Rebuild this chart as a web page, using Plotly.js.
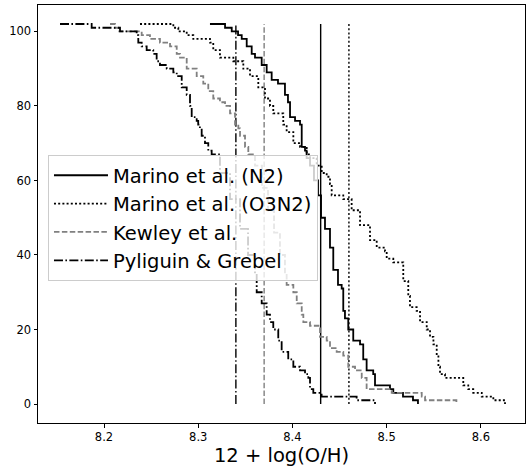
<!DOCTYPE html>
<html>
<head>
<meta charset="utf-8">
<script src="https://cdn.plot.ly/plotly-3.0.1.min.js"></script>
<style>html,body{margin:0;padding:0;background:#fff;}#chart{width:526px;height:471px;}</style>
</head>
<body>
<div id="chart"></div>
<script>
// Series names
const seriesNames = ["Marino et al. (N2)", "Marino et al. (O3N2)", "Kewley et al.", "Pyliguin & Grebel"];

// Marino et al. (N2) — step curve
const n2X = [8.3125, 8.3285, 8.3356, 8.3423, 8.3462, 8.3515, 8.3568, 8.3603, 8.3674, 8.3727, 8.3780, 8.3847, 8.3921, 8.3953, 8.3975, 8.4028, 8.4081, 8.4099, 8.4134, 8.4151, 8.4187, 8.4229, 8.4272, 8.4304, 8.4346, 8.4399, 8.4434, 8.4484, 8.4523, 8.4540, 8.4558, 8.4593, 8.4646, 8.4718, 8.4752, 8.4788, 8.4858, 8.4877, 8.5036, 8.5071, 8.5174, 8.5280, 8.5333];
const n2Y = [102, 101, 100, 99, 98, 96, 94, 93, 91, 89, 87, 86, 83, 81, 77, 76, 75, 69, 68, 66, 64, 60, 56, 50, 47, 42, 36, 32, 31, 25, 23, 20, 17, 16, 12, 9, 8, 5, 4, 3, 2, 1, 0];

// Marino et al. (O3N2)
const o3n2X = [8.2382, 8.2736, 8.2789, 8.2878, 8.2948, 8.3125, 8.3160, 8.3231, 8.3373, 8.3479, 8.3550, 8.3638, 8.3709, 8.3762, 8.3797, 8.3903, 8.3939, 8.4010, 8.4081, 8.4152, 8.4187, 8.4258, 8.4311, 8.4364, 8.4399, 8.4417, 8.4540, 8.4629, 8.4718, 8.4824, 8.4895, 8.4983, 8.5001, 8.5071, 8.5177, 8.5230, 8.5248, 8.5319, 8.5355, 8.5426, 8.5461, 8.5497, 8.5532, 8.5550, 8.5567, 8.5620, 8.5814, 8.5867, 8.5920, 8.6010, 8.6133, 8.6257];
const o3n2Y = [102, 101, 100, 99, 98, 97, 95, 93, 92, 90, 88, 85, 82, 80, 78, 75, 73, 70, 69, 67, 66, 64, 62, 61, 59, 56, 55, 52, 48, 44, 42, 41, 39, 38, 33, 29, 26, 25, 22, 20, 18, 16, 13, 10, 8, 7, 5, 4, 3, 2, 1, 0];

// Kewley et al.
const kewX = [8.2064, 8.2117, 8.2152, 8.2400, 8.2488, 8.2594, 8.2701, 8.2772, 8.2807, 8.2878, 8.2984, 8.3054, 8.3107, 8.3160, 8.3231, 8.3285, 8.3338, 8.3391, 8.3426, 8.3444, 8.3497, 8.3532, 8.3603, 8.3677, 8.3741, 8.3805, 8.3868, 8.3921, 8.3939, 8.4010, 8.4046, 8.4099, 8.4116, 8.4187, 8.4293, 8.4364, 8.4399, 8.4470, 8.4540, 8.4593, 8.4665, 8.4736, 8.4788, 8.5054, 8.5373, 8.5408, 8.5741];
const kewY = [102, 101, 100, 99, 98, 97, 96, 94, 93, 90, 88, 86, 84, 82, 81, 80, 78, 75, 74, 72, 69, 67, 64, 58, 52, 46, 40, 35, 32, 30, 27, 24, 22, 21, 18, 17, 15, 14, 13, 10, 9, 7, 4, 3, 2, 1, 0];

// Pyliguin & Grebel
const pgX = [8.1533, 8.1869, 8.2170, 8.2347, 8.2364, 8.2400, 8.2453, 8.2523, 8.2559, 8.2594, 8.2666, 8.2736, 8.2772, 8.2825, 8.2878, 8.2913, 8.2931, 8.2984, 8.3000, 8.3018, 8.3037, 8.3072, 8.3107, 8.3143, 8.3231, 8.3338, 8.3444, 8.3529, 8.3603, 8.3621, 8.3674, 8.3727, 8.3762, 8.3797, 8.3850, 8.3886, 8.3956, 8.4010, 8.4081, 8.4134, 8.4169, 8.4187, 8.4222, 8.4310, 8.4682, 8.4877];
const pgY = [102, 101, 100, 99, 97, 96, 95, 94, 92, 91, 90, 89, 88, 85, 83, 80, 77, 76, 75, 74, 72, 70, 68, 67, 62, 55, 47, 40, 35, 30, 27, 24, 22, 20, 17, 14, 12, 10, 9, 8, 7, 4, 3, 2, 1, 0];

// Vertical reference lines (median values), same order as series
const vlineX = [8.43, 8.46, 8.37, 8.34];
const vlineY = [0, 102];

// Axis ticks
const xTicks = [8.2, 8.3, 8.4, 8.5, 8.6];
const xTickText = ["8.2", "8.3", "8.4", "8.5", "8.6"];
const yTicks = [0, 20, 40, 60, 80, 100];
const yTickText = ["0", "20", "40", "60", "80", "100"];

const styles = [
  {color: "#000000", dash: "solid"},
  {color: "#000000", dash: "2px,2.2px"},
  {color: "#808080", dash: "5.5px,2.4px"},
  {color: "#000000", dash: "9px,2.4px,1.6px,2.4px"}
];
const curvesX = [n2X, o3n2X, kewX, pgX];
const curvesY = [n2Y, o3n2Y, kewY, pgY];

const traces = [];
for (let i = 0; i < 4; i++) {
  traces.push({
    x: [vlineX[i], vlineX[i]], y: vlineY, mode: "lines", type: "scatter",
    line: {color: styles[i].color, dash: styles[i].dash, width: 1.4},
    showlegend: false, hoverinfo: "skip"
  });
}
for (let i = 0; i < 4; i++) {
  traces.push({
    x: curvesX[i], y: curvesY[i], mode: "lines", type: "scatter", name: seriesNames[i],
    line: {color: styles[i].color, dash: styles[i].dash, width: 1.8, shape: "hv"}
  });
}

const layout = {
  width: 526, height: 471,
  margin: {l: 38, r: 1, t: 5, b: 48},
  paper_bgcolor: "#ffffff", plot_bgcolor: "#ffffff",
  font: {family: "DejaVu Sans", color: "#000000", size: 11.5},
  showlegend: true,
  xaxis: {
    range: [8.12994, 8.64692], tickvals: xTicks, ticktext: xTickText,
    ticks: "outside", ticklen: 3.5, tickwidth: 1, tickcolor: "#000",
    showline: true, mirror: true, linecolor: "#000", linewidth: 1,
    showgrid: false, zeroline: false, tickfont: {size: 11.5},
    title: {text: "12 + log(O/H)", font: {size: 19.5}, standoff: 5}
  },
  yaxis: {
    range: [-5.1, 107.1], tickvals: yTicks, ticktext: yTickText,
    ticks: "outside", ticklen: 3.5, tickwidth: 1, tickcolor: "#000",
    showline: true, mirror: true, linecolor: "#000", linewidth: 1,
    showgrid: false, zeroline: false, tickfont: {size: 11.5}
  },
  legend: {
    x: 0.0205, y: 0.641, xanchor: "left", yanchor: "top",
    bgcolor: "rgba(255,255,255,0.8)", bordercolor: "#cccccc", borderwidth: 1,
    font: {size: 19.5, family: "DejaVu Sans"}, traceorder: "normal",
    itemwidth: 54
  }
};

Plotly.newPlot("chart", traces, layout, {displayModeBar: false, staticPlot: true});
</script>
</body>
</html>
